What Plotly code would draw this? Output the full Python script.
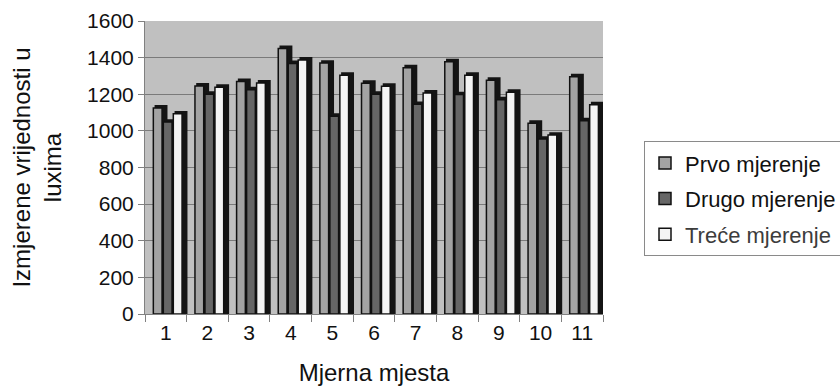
import plotly.graph_objects as go

categories = ["1", "2", "3", "4", "5", "6", "7", "8", "9", "10", "11"]
prvo = [1125, 1245, 1270, 1450, 1370, 1260, 1345, 1378, 1277, 1042, 1296]
drugo = [1048, 1200, 1225, 1368, 1080, 1200, 1145, 1198, 1170, 955, 1055]
trece = [1093, 1238, 1262, 1387, 1304, 1244, 1207, 1304, 1211, 977, 1143]
series_names = ["Prvo mjerenje", "Drugo mjerenje",
                "<span style='color:#3c3c3c'>Treće mjerenje</span>"]
series_colors = ["#a3a3a3", "#666666", "#f4f4f4"]
front_offsets = [-0.30, -0.06, 0.18]
front_width = 0.21
cap = 16  # visual depth of the 3D top (style)

fig = go.Figure()
for i, (name, vals, col, off) in enumerate(zip(series_names, [prvo, drugo, trece],
                                              series_colors, front_offsets)):
    # dark 3D side / top
    fig.add_trace(go.Bar(
        x=categories, y=[v + cap for v in vals], showlegend=False, hoverinfo="skip",
        offset=off + 0.03, width=front_width + 0.10,
        marker=dict(color="#141414", line=dict(width=0)),
    ))
    # front face
    fig.add_trace(go.Bar(
        x=categories, y=vals, name=name, legendgroup=f"g{i}",
        offset=off, width=front_width,
        marker=dict(color=col, line=dict(color="#111111", width=1.5)),
    ))

font = "Liberation Sans, Arial, sans-serif"
fig.update_layout(
    width=840, height=392,
    margin=dict(l=145, r=237, t=21, b=78, autoexpand=False),
    paper_bgcolor="white",
    plot_bgcolor="#c0c0c0",
    barmode="overlay",
    font=dict(family=font, size=21, color="#111111"),
    showlegend=True,
    legend=dict(
        x=(644 - 145) / 458, y=0.59, xanchor="left", yanchor="top",
        bgcolor="white", bordercolor="#8a8a8a", borderwidth=1,
        font=dict(family=font, size=22, color="#111111"),
        tracegroupgap=4, itemwidth=30,
    ),
    xaxis=dict(
        title=dict(text="Mjerna mjesta", font=dict(size=24), standoff=20),
        showgrid=False, showline=True, linecolor="#808080", linewidth=1,
        ticks="outside", tickson="boundaries", ticklen=7, tickcolor="#808080",
        tickfont=dict(size=21), range=[-0.5, 10.5],
    ),
    yaxis=dict(
        title=dict(text="Izmjerene vrijednosti u<br>luxima", font=dict(size=24), standoff=18),
        range=[0, 1600], dtick=200,
        showgrid=True, gridcolor="#7a7a7a", gridwidth=1,
        showline=True, linecolor="#808080", linewidth=1,
        ticks="outside", ticklen=6, tickcolor="#808080",
        tickfont=dict(size=21), zeroline=False,
    ),
)

fig.write_html("out.html")
